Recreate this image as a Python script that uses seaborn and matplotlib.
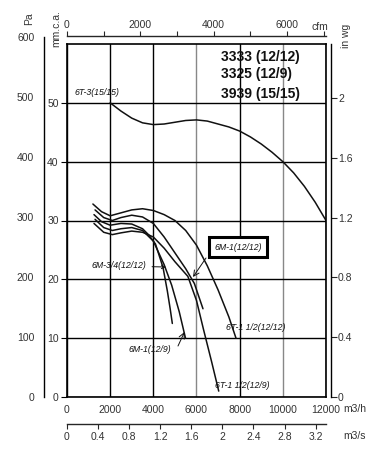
import numpy as np
import pandas as pd
import seaborn as sns
import matplotlib.pyplot as plt

# fan curves, flow in m3/h, pressure in mm.c.a.
flow_6t3 = [2000, 2500, 3000, 3500, 4000, 4500, 5000, 5500, 6000, 6500, 7000, 7500, 8000, 8500, 9000, 9500, 10000, 10500, 11000, 11500, 12000]
pres_6t3 = [50, 48.6, 47.4, 46.6, 46.3, 46.4, 46.7, 47.0, 47.1, 46.9, 46.4, 45.9, 45.2, 44.2, 43.0, 41.6, 40.0, 38.1, 35.8, 33.1, 30.0]

flow_6m34 = [1250, 1600, 2000, 2500, 3000, 3500, 3800, 4100, 4450, 4650, 4780, 4880]
pres_6m34 = [31.0, 29.8, 29.2, 29.5, 29.4, 28.6, 27.5, 26.0, 22.0, 18.0, 15.0, 12.5]

flow_6m1_129 = [1300, 1700, 2100, 2500, 3000, 3500, 4000, 4500, 4850, 5200, 5490]
pres_6m1_129 = [30.2, 28.8, 28.3, 28.6, 28.8, 28.3, 26.5, 22.5, 19.0, 14.5, 10.0]

flow_6m1_1212 = [1300, 1700, 2100, 2500, 3000, 3500, 4000, 4500, 5000, 5500, 5900, 6300]
pres_6m1_1212 = [31.8, 30.5, 30.0, 30.5, 30.9, 30.6, 29.5, 27.2, 24.5, 21.8, 19.3, 15.0]

flow_6t15_129 = [1250, 1700, 2100, 2500, 3000, 3500, 4000, 4500, 5000, 5600, 6000, 6330, 6700, 7030]
pres_6t15_129 = [29.5, 28.0, 27.6, 27.9, 28.2, 28.0, 27.2, 25.3, 23.0, 20.5, 16.4, 11.4, 6.0, 1.0]

flow_6t15_1212 = [1200, 1600, 2000, 2500, 3000, 3500, 4000, 4500, 5000, 5500, 6000, 6500, 7000, 7500, 7830]
pres_6t15_1212 = [32.8, 31.5, 30.8, 31.3, 31.8, 32.0, 31.7, 31.0, 30.0, 28.3, 25.8, 22.3, 18.2, 13.6, 10.0]

legend_lines = ['3333 (12/12)', '3325 (12/9)', '3939 (15/15)']

m3h_ticks = [0, 2000, 4000, 6000, 8000, 10000, 12000]
mm_ticks = [0, 10, 20, 30, 40, 50]
pa_ticks = [0, 100, 200, 300, 400, 500, 600]
inwg_ticks = [0, 0.4, 0.8, 1.2, 1.6, 2]
inwg_labels = ['0', '0.4', '0.8', '1.2', '1.6', '2']
cfm_ticks = [0, 2000, 4000, 6000]
m3s_ticks = [0, 0.4, 0.8, 1.2, 1.6, 2, 2.4, 2.8, 3.2]
m3s_labels = ['0', '0.4', '0.8', '1.2', '1.6', '2', '2.4', '2.8', '3.2']

sns.set_style('white')
plt.rcParams['font.family'] = ['Liberation Sans', 'DejaVu Sans']
plt.rcParams['axes.linewidth'] = 1.0

W, H = 390, 458
fig = plt.figure(figsize=(W / 100, H / 100), dpi=100)

L, R, T, B = 67, 326, 44, 397
ax = fig.add_axes([L / W, 1 - B / H, (R - L) / W, (B - T) / H])
ax.set_xlim(0, 12000)
ax.set_ylim(0, 60)


def d(px, py):
    # pixel position -> data position
    return ((px - L) * 12000 / (R - L), (B - py) * 60 / (B - T))


tick_col = '#333333'
ink = '#111111'

# grid
ax.set_xticks(m3h_ticks)
ax.set_yticks(mm_ticks)
ax.grid(True, color='k', lw=1.0)
for gl, v in zip(ax.xaxis.get_gridlines(), m3h_ticks):
    if v in (6000, 10000):
        gl.set_color('#888888')
for sp in ax.spines.values():
    sp.set_color('k')
    sp.set_linewidth(1.2)
ax.tick_params(axis='both', direction='out', length=4, width=0.8, colors='k',
               labelcolor=tick_col, labelsize=7.5, pad=2)
ax.set_xticklabels([str(v) for v in m3h_ticks])
ax.set_yticklabels([str(v) for v in mm_ticks])

# curves
curves = [(flow_6t3, pres_6t3), (flow_6m34, pres_6m34), (flow_6m1_129, pres_6m1_129),
          (flow_6m1_1212, pres_6m1_1212), (flow_6t15_129, pres_6t15_129),
          (flow_6t15_1212, pres_6t15_1212)]
for fl, pr in curves:
    df = pd.DataFrame({'flow': fl, 'p': pr})
    sns.lineplot(data=df, x='flow', y='p', ax=ax, color=ink, lw=1.1, sort=False, estimator=None)
ax.set_xlabel('')
ax.set_ylabel('')

lab = dict(family=['Liberation Sans Narrow', 'Liberation Sans', 'DejaVu Sans'],
           style='italic', fontsize=6.3, color=ink)
ax.text(*d(97, 92), '6T-3(15/15)', ha='center', va='center', **lab)
ax.annotate('6M-3/4(12/12)', xy=d(166, 267), xytext=d(146, 266), ha='right', va='center',
            arrowprops=dict(arrowstyle='->', lw=0.7, color=ink, shrinkA=2, shrinkB=0), **lab)
ax.text(*d(238, 247), '6M-1(12/12)', ha='center', va='center',
        bbox=dict(boxstyle='square,pad=0.65', fc='white', ec='k', lw=2.2), **lab)
ax.annotate('', xy=d(193, 277), xytext=d(206, 258),
            arrowprops=dict(arrowstyle='->', lw=0.7, color=ink, shrinkA=0, shrinkB=0))
ax.text(*d(150, 350), '6M-1(12/9)', ha='center', va='center', **lab)
ax.annotate('', xy=d(184.5, 332), xytext=d(178, 346),
            arrowprops=dict(arrowstyle='->', lw=0.7, color=ink, shrinkA=0, shrinkB=0))
ax.text(*d(256, 327), '6T-1 1/2(12/12)', ha='center', va='center', **lab)
ax.text(*d(242, 385), '6T-1 1/2(12/9)', ha='center', va='center', **lab)

# model legend
for txt, py in zip(legend_lines, [57, 74, 94]):
    ax.text(*d(221, py), txt, ha='left', va='center', fontsize=10, fontweight='bold', color=ink)

# in wg axis on the right
ax_in = ax.twinx()
ax_in.set_ylim(0, 60 / 25.4)
ax_in.set_yticks(inwg_ticks)
ax_in.set_yticklabels(inwg_labels)
for k in ['left', 'top', 'bottom']:
    ax_in.spines[k].set_visible(False)
ax_in.spines['right'].set_position(('outward', 3.6))
ax_in.spines['right'].set_color('k')
ax_in.spines['right'].set_linewidth(1.0)
ax_in.tick_params(axis='y', direction='out', length=4, width=0.8, labelcolor=tick_col, labelsize=7.5, pad=1)

# Pa axis on the far left
pa_h = (B - T) * (600 / 9.80665) / 60
ax_pa = fig.add_axes([44 / W, 1 - B / H, 0.001, pa_h / H])
ax_pa.set_ylim(0, 600)
ax_pa.set_yticks(pa_ticks)
ax_pa.set_yticklabels([str(v) for v in pa_ticks])
ax_pa.set_xticks([])
ax_pa.patch.set_alpha(0)
for k in ['right', 'top', 'bottom']:
    ax_pa.spines[k].set_visible(False)
ax_pa.spines['left'].set_color('k')
ax_pa.tick_params(axis='y', direction='out', length=5, width=0.8, labelcolor=tick_col, labelsize=7.5, pad=2)

# cfm on top
top = ax.secondary_xaxis((B - 36) / (B - T), functions=(lambda x: x / 1.699, lambda x: x * 1.699))
top.set_xticks(cfm_ticks)
top.set_xticklabels([str(v) for v in cfm_ticks])
top.set_xticks([1000, 3000, 5000, 7000], minor=True)
top.tick_params(which='both', direction='out', length=3.5, width=0.8, labelcolor=tick_col, labelsize=7.5, pad=1)
top.spines['top'].set_linewidth(1.0)

# m3/s below
bot = ax.secondary_xaxis(-(424 - B) / (B - T), functions=(lambda x: x / 3600, lambda x: x * 3600))
bot.set_xticks(m3s_ticks)
bot.set_xticklabels(m3s_labels)
bot.tick_params(direction='out', length=3.5, width=0.8, labelcolor=tick_col, labelsize=7.5, pad=2)
bot.spines['bottom'].set_linewidth(1.0)

# unit labels
uc = dict(color=tick_col, fontsize=7.5)
fig.text(29 / W, 1 - 19 / H, 'Pa', rotation=90, ha='center', va='center', **uc)
fig.text(56 / W, 1 - 29 / H, 'mm.c.a.', rotation=90, ha='center', va='center', **uc)
fig.text(346 / W, 1 - 36 / H, 'in wg', rotation=90, ha='center', va='center', **uc)
fig.text(320 / W, 1 - 27 / H, 'cfm', ha='center', va='center', **uc)
fig.text(355 / W, 1 - 409 / H, 'm3/h', ha='center', va='center', **uc)
fig.text(355 / W, 1 - 436 / H, 'm3/s', ha='center', va='center', **uc)

fig.savefig('out.png', dpi=100, facecolor='white')
